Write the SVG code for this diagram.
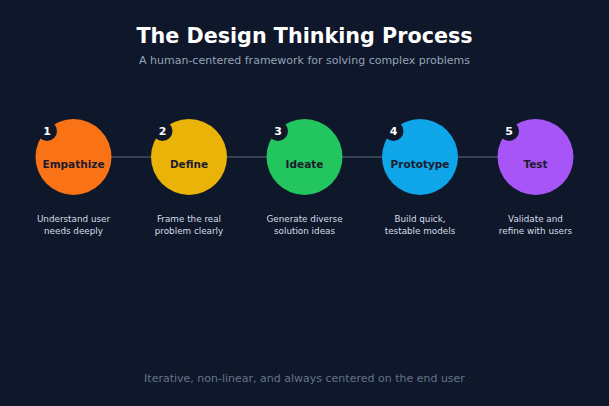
<svg xmlns="http://www.w3.org/2000/svg" width="609" height="406" viewBox="0 0 609 406">
<style>
text{font-family:"DejaVu Sans","Noto Sans",sans-serif;text-anchor:middle}
.title{font-size:20.7px;font-weight:bold;fill:#ffffff}
.sub{font-size:11px;fill:#94a3b8}
.foot{font-size:11px;fill:#64748b}
.lbl{font-size:10.5px;font-weight:bold;fill:#1e1b2e}
.num{font-size:11px;font-weight:bold;fill:#ffffff}
.desc{font-size:8.8px;fill:#d5dde8}
.badge{fill:#0f172a}
</style>
<rect width="609" height="406" fill="#0f172a"/>
<text class="title" x="304.5" y="43">The Design Thinking Process</text>
<text class="sub" x="304.5" y="64">A human-centered framework for solving complex problems</text>
<g id="connectors">
<line x1="111" y1="157" x2="498" y2="157" stroke="#334155" stroke-width="2"/>
</g>
<g id="n1">
<circle cx="73.5" cy="157" r="38" fill="#f97316"/>
<circle class="badge" cx="47" cy="131" r="10"/>
<text class="num" x="47" y="135">1</text>
<text class="lbl" x="73.5" y="168">Empathize</text>
<text class="desc" x="73.5" y="222">Understand user</text>
<text class="desc" x="73.5" y="233.5">needs deeply</text>
</g>
<g id="n2">
<circle cx="189" cy="157" r="38" fill="#eab308"/>
<circle class="badge" cx="162.5" cy="131" r="10"/>
<text class="num" x="162.5" y="135">2</text>
<text class="lbl" x="189" y="168">Define</text>
<text class="desc" x="189" y="222">Frame the real</text>
<text class="desc" x="189" y="233.5">problem clearly</text>
</g>
<g id="n3">
<circle cx="304.5" cy="157" r="38" fill="#22c55e"/>
<circle class="badge" cx="278" cy="131" r="10"/>
<text class="num" x="278" y="135">3</text>
<text class="lbl" x="304.5" y="168">Ideate</text>
<text class="desc" x="304.5" y="222">Generate diverse</text>
<text class="desc" x="304.5" y="233.5">solution ideas</text>
</g>
<g id="n4">
<circle cx="420" cy="157" r="38" fill="#0ea5e9"/>
<circle class="badge" cx="393.5" cy="131" r="10"/>
<text class="num" x="393.5" y="135">4</text>
<text class="lbl" x="420" y="168">Prototype</text>
<text class="desc" x="420" y="222">Build quick,</text>
<text class="desc" x="420" y="233.5">testable models</text>
</g>
<g id="n5">
<circle cx="535.5" cy="157" r="38" fill="#a855f7"/>
<circle class="badge" cx="509" cy="131" r="10"/>
<text class="num" x="509" y="135">5</text>
<text class="lbl" x="535.5" y="168">Test</text>
<text class="desc" x="535.5" y="222">Validate and</text>
<text class="desc" x="535.5" y="233.5">refine with users</text>
</g>
<text class="foot" x="304.5" y="382">Iterative, non-linear, and always centered on the end user</text>
</svg>
